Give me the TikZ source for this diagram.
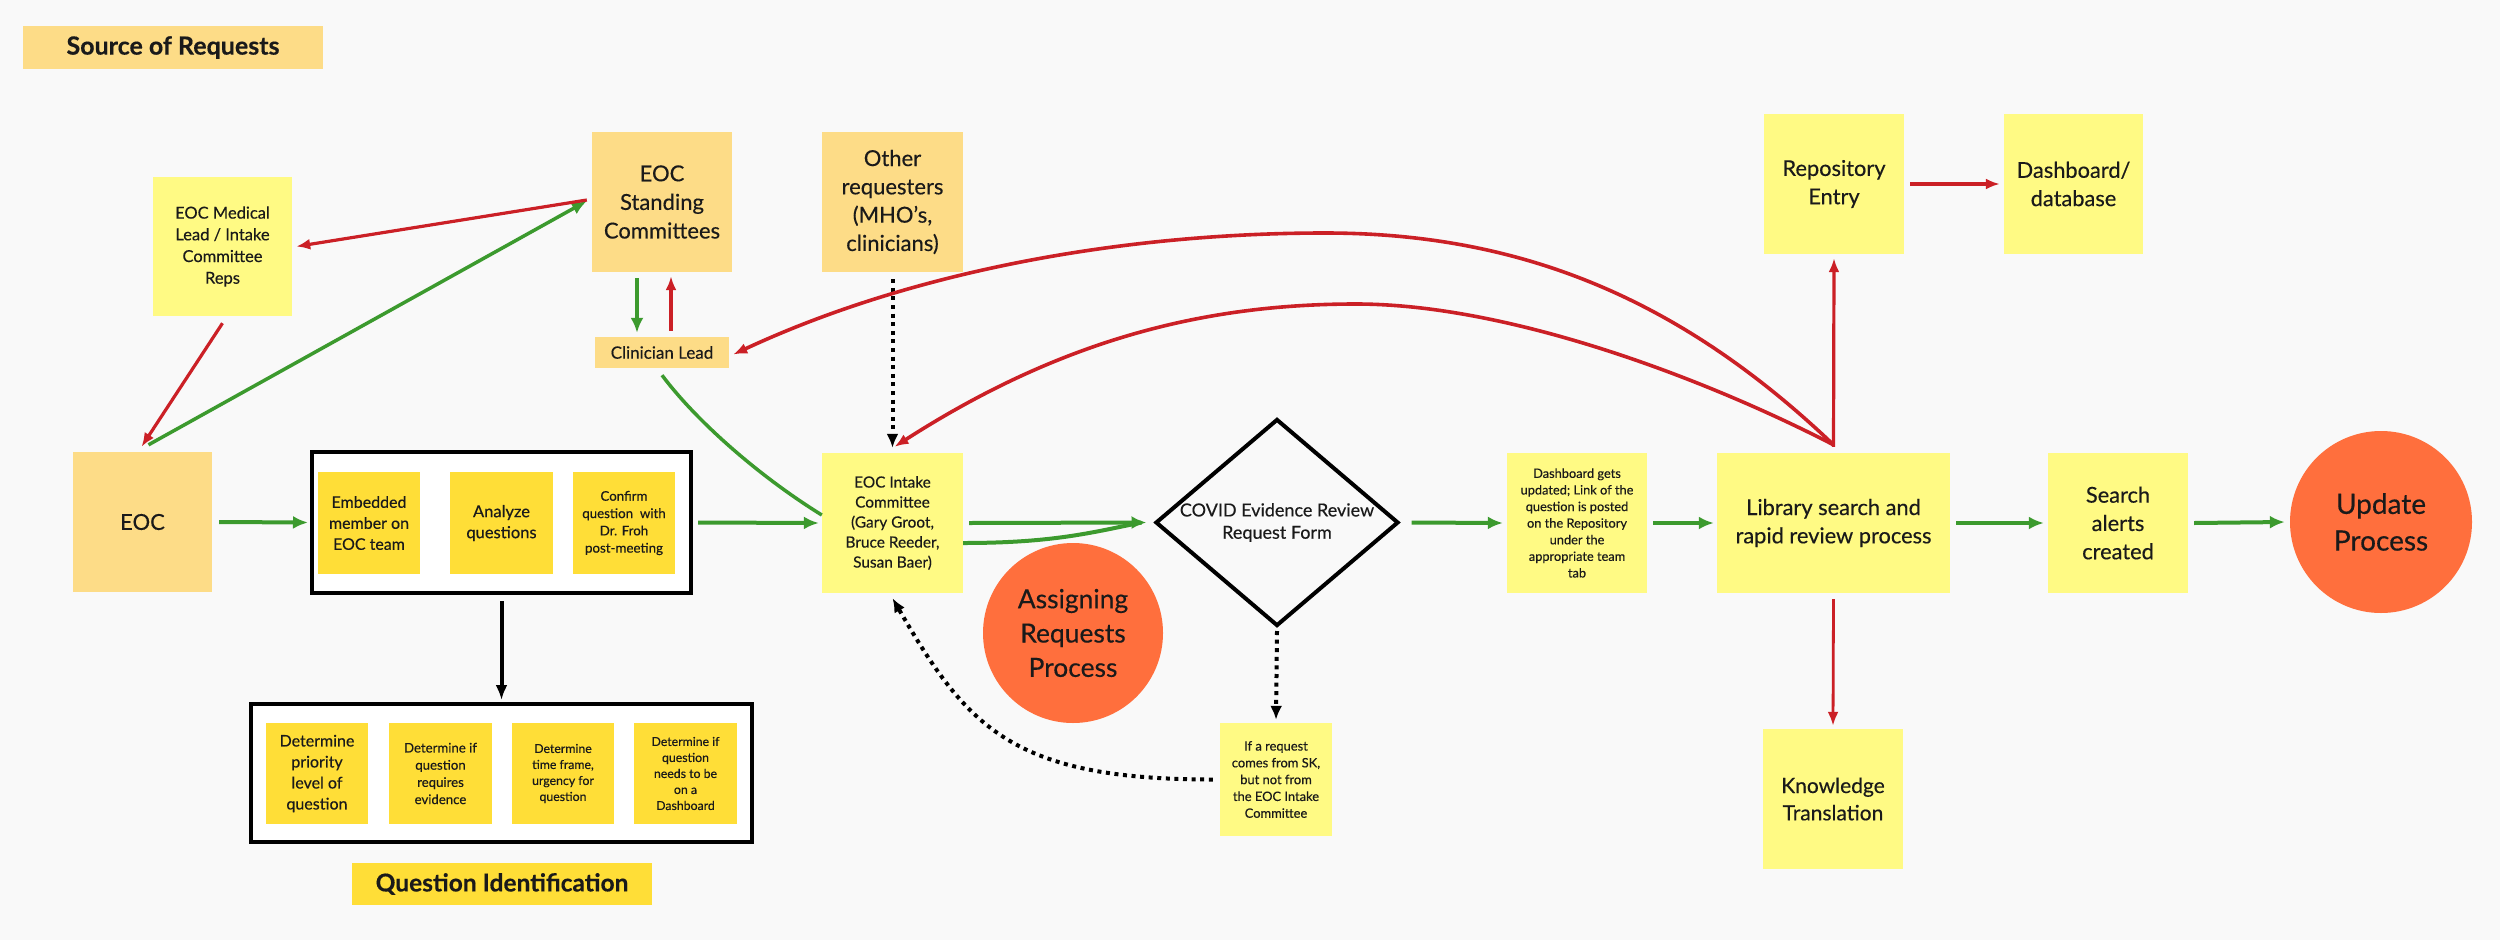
\documentclass[tikz,border=0pt]{standalone}
\usepackage{fontspec}
\setmainfont{Lato}[FakeBold=0.35]
\usetikzlibrary{arrows.meta,calc,shapes.geometric}
\definecolor{bg}{HTML}{F9F9F9}
\definecolor{lorange}{HTML}{FDDC87}
\definecolor{yell}{HTML}{FFFA84}
\definecolor{dyell}{HTML}{FFDE37}
\definecolor{orng}{HTML}{FF6F3D}
\definecolor{garr}{HTML}{3C9A2E}
\definecolor{rarr}{HTML}{CB2026}
\definecolor{txt}{HTML}{1A1A1A}
\newcommand{\fsz}[2]{\fontsize{#1}{#2}\selectfont}
\tikzset{
  note/.style={rectangle, inner sep=0pt, align=center, text=txt},
  lo/.style={note, fill=lorange},
  ye/.style={note, fill=yell},
  dy/.style={note, fill=dyell},
  boxframe/.style={rectangle, draw=black, fill=white, line width=4pt, inner sep=0pt},
  blob/.style={circle, fill=orng, inner sep=0pt, align=center, text=txt},
  garrow/.style={draw=garr, line width=4pt, -{Latex[length=15pt,width=13pt]}},
  gline/.style={draw=garr, line width=4pt},
  rarrow/.style={draw=rarr, line width=3.2pt, -{Latex[length=14pt,width=11pt]}},
  darrow/.style={draw=black, line width=4pt, dash pattern=on 4pt off 4.6pt, -{Latex[length=14pt,width=12pt]}},
  karrow/.style={draw=black, line width=4pt, -{Latex[length=15pt,width=12pt]}},
}
\begin{document}
\begin{tikzpicture}[x=1pt,y=-1pt]
\useasboundingbox (0,0) rectangle (2500,940);
\fill[bg] (0,0) rectangle (2500,940);

% --- labels
\node[lo, minimum width=300pt, minimum height=43pt, font={\fsz{25}{28}\bfseries}] (src) at (173,47.5) {Source of Requests};
\node[dy, minimum width=300pt, minimum height=42pt, font={\fsz{24.5}{28}\bfseries}] (qid) at (502,884) {Question Identification};

% --- sources
\node[ye, minimum width=139pt, minimum height=139pt, font=\fsz{16.5}{21.7}] (medlead) at (222.5,246.5) {EOC Medical\\Lead / Intake\\Committee\\Reps};
\node[lo, minimum width=140pt, minimum height=140pt, font=\fsz{22}{28.6}] (standing) at (662,202) {EOC\\Standing\\Committees};
\node[lo, minimum width=141pt, minimum height=140pt, font=\fsz{22}{28.3}] (other) at (892.5,202) {Other\\requesters\\(MHO's,\\clinicians)};
\node[lo, minimum width=134pt, minimum height=31pt, font=\fsz{17}{20}] (clin) at (662,352.5) {Clinician Lead};
\node[lo, minimum width=139pt, minimum height=140pt, font=\fsz{22}{28}] (eoc) at (142.5,522) {EOC};

% --- question identification
\node[boxframe, minimum width=379pt, minimum height=141pt] (qframe) at (501.5,522.5) {};
\node[dy, minimum width=102pt, minimum height=102pt, font=\fsz{16}{21}] (emb) at (369,523) {Embedded\\member on\\EOC team};
\node[dy, minimum width=103pt, minimum height=102pt, font=\fsz{16.5}{21}] (analyze) at (501.5,523) {Analyze\\questions};
\node[dy, minimum width=102pt, minimum height=102pt, font=\fsz{13.3}{17.3}] (confirm) at (624,523) {Confirm\\question~ with\\Dr. Froh\\post-meeting};

\node[boxframe, minimum width=501pt, minimum height=138pt] (dframe) at (501.5,773) {};
\node[dy, minimum width=102pt, minimum height=101pt, font=\fsz{16}{21}] (d1) at (317,773.5) {Determine\\priority\\level of\\question};
\node[dy, minimum width=103pt, minimum height=101pt, font=\fsz{13.2}{17.2}] (d2) at (440.5,773.5) {Determine if\\question\\requires\\evidence};
\node[dy, minimum width=102pt, minimum height=101pt, font=\fsz{12.3}{16}] (d3) at (563,773.5) {Determine\\time frame,\\urgency for\\question};
\node[dy, minimum width=103pt, minimum height=101pt, font=\fsz{12.3}{16}] (d4) at (685.5,773.5) {Determine if\\question\\needs to be\\on a\\Dashboard};

% --- intake & assigning
\node[ye, minimum width=141pt, minimum height=140pt, font=\fsz{15.4}{20}] (intake) at (892.5,523) {EOC Intake\\Committee\\(Gary Groot,\\Bruce Reeder,\\Susan Baer)};
\node[diamond, draw=black, line width=4pt, minimum width=243pt, minimum height=207pt, inner sep=0pt] (diam) at (1277,522.5) {};
\node[note, font=\fsz{18}{22.3}] (diamtext) at (diam.center) {COVID Evidence Review\\Request Form};
\node[blob, minimum size=180pt, font=\fsz{26.4}{34.3}] (assign) at (1073,633) {Assigning\\Requests\\Process};
\node[ye, minimum width=112pt, minimum height=113pt, font=\fsz{12.9}{16.8}] (sk) at (1276,779.5) {If a request\\comes from SK,\\but not from\\the EOC Intake\\Committee};

% --- review chain
\node[ye, minimum width=140pt, minimum height=140pt, font=\fsz{12.8}{16.6}] (dash) at (1577,523) {Dashboard gets\\updated; Link of the\\question is posted\\on the Repository\\under the\\appropriate team\\tab};
\node[ye, minimum width=233pt, minimum height=140pt, font=\fsz{21.8}{28.3}] (lib) at (1833.5,523) {Library search and\\rapid review process};
\node[ye, minimum width=140pt, minimum height=140pt, font=\fsz{21.8}{28.3}] (search) at (2118,523) {Search\\alerts\\created};
\node[blob, minimum size=182pt, font=\fsz{28}{36.7}] (update) at (2381,522) {Update\\Process};
\node[ye, minimum width=140pt, minimum height=140pt, font=\fsz{21.8}{28.3}] (repo) at (1834,184) {Repository\\Entry};
\node[ye, minimum width=139pt, minimum height=140pt, font=\fsz{21.8}{28.3}] (dashdb) at (2073.5,184) {Dashboard/\\database};
\node[ye, minimum width=140pt, minimum height=140pt, font=\fsz{21}{27.3}] (know) at (1833,799) {Knowledge\\Translation};

% --- connectors: sources
\draw[garrow, line width=3.5pt] ($(eoc.north)+(6,-7)$) -- ($(standing.west)+(-5,-1)$);
\draw[rarrow] ($(standing.west)+(-5,-2)$) -- ($(medlead.east)+(4,0)$);
\draw[rarrow] ($(medlead.south)+(0,7)$) -- ($(eoc.north)+(-1,-5)$);
\draw[garrow, line width=3.5pt] ($(standing.south)+(-25,6)$) -- ($(clin.north)+(-25,-4)$);
\draw[rarrow] ($(clin.north)+(9,-6)$) -- ($(standing.south)+(9,4)$);
\draw[darrow] ($(other.south)+(0,7)$) -- ($(intake.north)+(0,-5)$);
\draw[gline, line width=3.5pt] ($(clin.south)+(0,7)$) .. controls +(36,48) and +(-60,-37) .. ($(intake.west)+(0,-8)$);

% --- main green flow
\draw[garrow] ($(eoc.east)+(7,0)$) -- ($(qframe.west)+(-2,0)$);
\draw[garrow] ($(qframe.east)+(5,0)$) -- ($(intake.west)+(-3,0)$);
\draw[gline] ($(intake.east)+(0,20)$) .. controls +(90,0) and +(-50,10) .. ($(diam.west)+(-12,0)$);
\draw[garrow] ($(intake.east)+(6,0)$) -- ($(diam.west)+(-7,0)$);
\draw[garrow] ($(diam.east)+(11,0)$) -- ($(dash.west)+(-4,0)$);
\draw[garrow] ($(dash.east)+(6,0)$) -- ($(lib.west)+(-3,0)$);
\draw[garrow] ($(lib.east)+(6,0)$) -- ($(search.west)+(-4,0)$);
\draw[garrow] ($(search.east)+(6,0)$) -- ($(update.west)+(-5,0)$);

% --- question identification
\draw[karrow] ($(qframe.south)+(0,6)$) -- ($(dframe.north)+(0,-2)$);

% --- diamond branch
\draw[darrow] ($(diam.south)+(0,3)$) -- ($(sk.north)+(0,-3)$);
\draw[darrow] ($(sk.west)+(-7,0)$) .. controls +(-200,0) and +(75,130) .. ($(intake.south)+(0,5)$);

% --- red outputs of library
\draw[rarrow] ($(lib.north)+(0,-6)$) -- ($(repo.south)+(0,4)$);
\draw[rarrow, line width=4.5pt] ($(repo.east)+(6,0)$) -- ($(dashdb.west)+(-4,0)$);
\draw[rarrow, line width=2.8pt] ($(lib.south)+(0,6)$) -- ($(know.north)+(0,-3)$);
\draw[rarrow, line width=3.6pt] ($(lib.north)+(0,-8)$) .. controls +(-150,-143) and +(200,0) .. (1325,233)
   .. controls +(-200,0) and +(180,-84) .. ($(clin.east)+(4,2)$);
\draw[rarrow, line width=3.6pt] ($(lib.north)+(0,-8)$) .. controls +(-134,-69) and +(150,0) .. (1356,304)
   .. controls +(-150,0) and +(168,-108) .. ($(intake.north)+(2,-6)$);
\end{tikzpicture}
\end{document}
